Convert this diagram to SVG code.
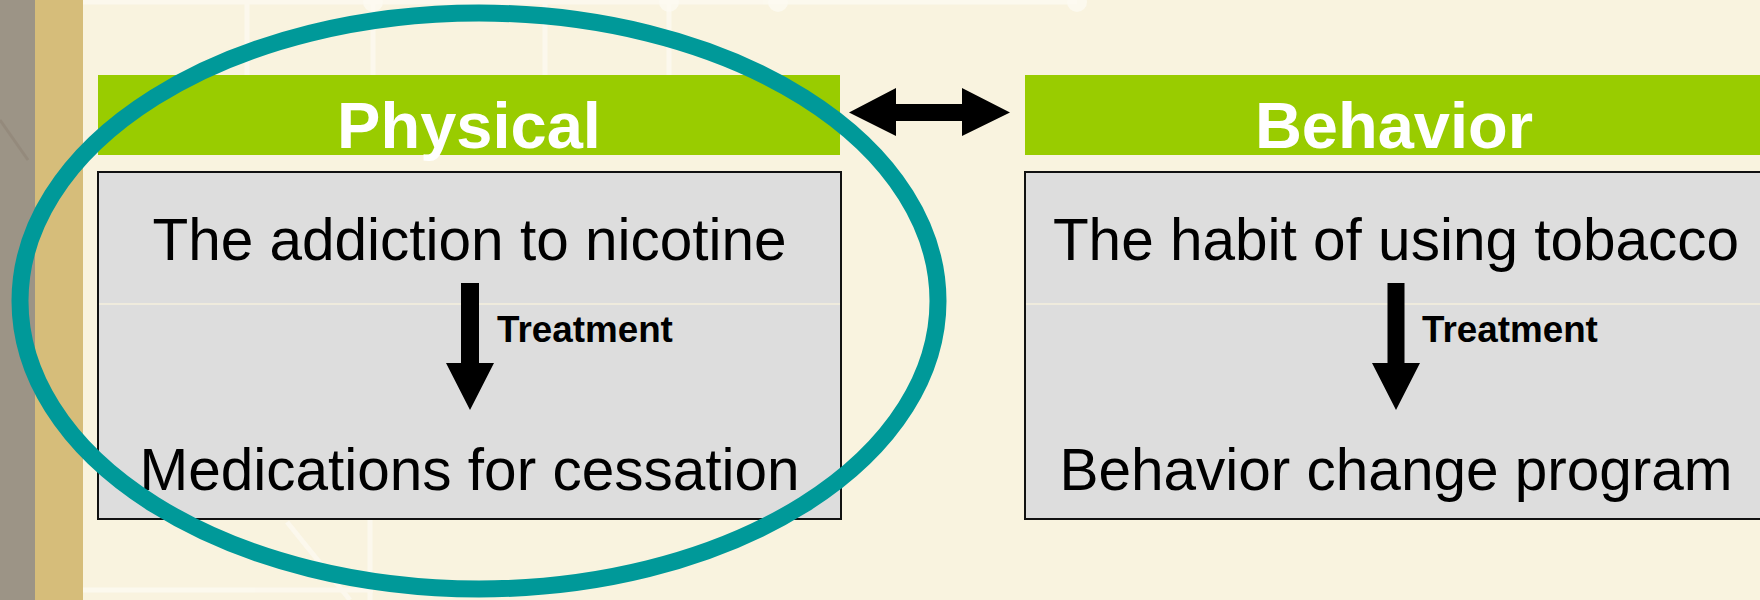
<svg xmlns="http://www.w3.org/2000/svg" width="1760" height="600" viewBox="0 0 1760 600">
<style>
.hdr{fill:#99cc00}
.hdrtxt{font-family:"Liberation Sans",Arial,sans-serif;font-weight:bold;font-size:65px;fill:#ffffff;text-anchor:middle}
.box{fill:#dddddd;stroke:#111111;stroke-width:2}
.body{font-family:"Liberation Sans",Arial,sans-serif;font-size:58.5px;fill:#000000;text-anchor:middle}
.lbl{font-family:"Liberation Sans",Arial,sans-serif;font-weight:bold;font-size:36.8px;fill:#000000}
.deco{stroke:#fdfaf1;fill:none}
.sep{stroke:#f4efdc;stroke-width:1.5}
</style>
<g id="background">
<rect x="0" y="0" width="1760" height="600" fill="#f9f3df"/>
<rect x="0" y="0" width="35" height="600" fill="#9c9486"/>
<rect x="35" y="0" width="48" height="600" fill="#d6bd7a"/>
<path d="M0 120 L28 160" stroke="#8f8476" stroke-width="3" fill="none" opacity="0.6"/>
<g class="deco" stroke-width="5" opacity="0.8">
<line x1="83" y1="2" x2="1077" y2="2"/>
<line x1="247" y1="0" x2="247" y2="75"/>
<line x1="373" y1="0" x2="373" y2="75"/>
<line x1="545" y1="0" x2="545" y2="75"/>
<line x1="669" y1="0" x2="669" y2="75"/>
<line x1="370" y1="519" x2="370" y2="600"/>
<line x1="287" y1="522" x2="350" y2="600"/>
<line x1="83" y1="590" x2="373" y2="590"/>
</g>
<g fill="#fdfaf1" opacity="0.8">
<circle cx="373" cy="2" r="10"/>
<circle cx="669" cy="2" r="10"/>
<circle cx="778" cy="2" r="10"/>
<circle cx="1077" cy="2" r="10"/>
</g>
</g>
<g id="physical">
<rect class="hdr" x="98" y="75" width="742" height="80"/>
<text class="hdrtxt" x="469" y="148">Physical</text>
<rect class="box" x="98" y="172" width="743" height="347"/>
<line class="sep" x1="99" y1="304" x2="840" y2="304"/>
<text class="body" x="469.5" y="260">The addiction to nicotine</text>
<text class="body" x="469.5" y="490">Medications for cessation</text>
</g>
<g id="behavior">
<rect class="hdr" x="1025" y="75" width="740" height="80"/>
<text class="hdrtxt" x="1394" y="148">Behavior</text>
<rect class="box" x="1025" y="172" width="745" height="347"/>
<line class="sep" x1="1026" y1="304" x2="1760" y2="304"/>
<text class="body" x="1396" y="260">The habit of using tobacco</text>
<text class="body" x="1396" y="490">Behavior change program</text>
</g>
<g id="connectors">
<polygon points="849,112.5 896,88 896,104 962,104 962,88 1010,112.5 962,136 962,121 896,121 896,136" fill="#000000"/>
<polygon points="461,283 479,283 479,363 494,363 470,410 446,363 461,363" fill="#000000"/>
<text class="lbl" x="497" y="342">Treatment</text>
<polygon points="1387.5,283 1404.5,283 1404.5,363 1420,363 1396,410 1372,363 1387.5,363" fill="#000000"/>
<text class="lbl" x="1422" y="342">Treatment</text>
</g>
<g id="highlight">
<ellipse cx="479" cy="301" rx="459" ry="288" fill="none" stroke="#009999" stroke-width="17"/>
</g>
</svg>
